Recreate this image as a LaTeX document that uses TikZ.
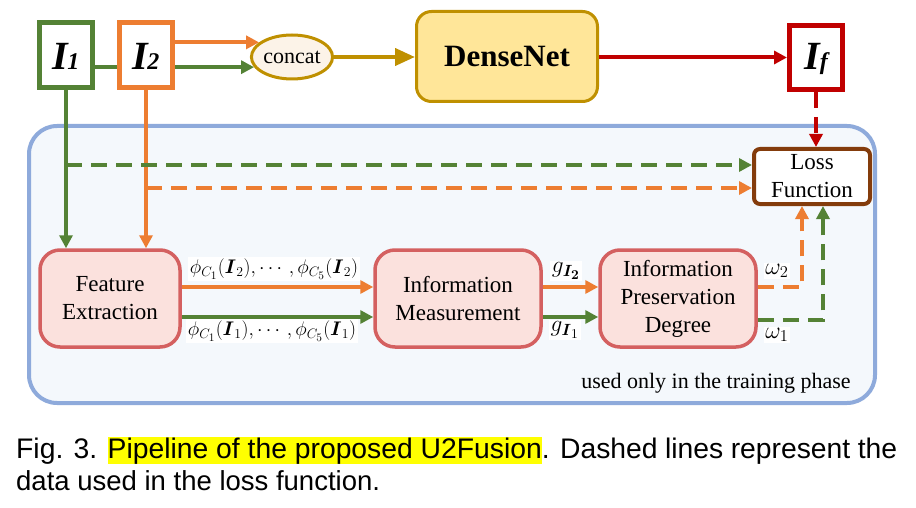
\documentclass[tikz,border=0pt]{standalone}
\usepackage{amsmath}
\usepackage{graphicx}
\usepackage{fontspec}
\setmainfont{Liberation Serif}
\newfontfamily\capfont{Liberation Sans}
\usetikzlibrary{arrows.meta,shapes.geometric,backgrounds,calc}
\definecolor{cgreen}{RGB}{84,130,53}
\definecolor{corange}{RGB}{237,125,49}
\definecolor{cgold}{RGB}{191,144,0}
\definecolor{cyellow}{RGB}{255,230,153}
\definecolor{ccream}{RGB}{252,243,232}
\definecolor{cred}{RGB}{192,0,0}
\definecolor{cpinkfill}{RGB}{251,225,221}
\definecolor{cpinkline}{RGB}{212,96,96}
\definecolor{cbluefill}{RGB}{244,248,252}
\definecolor{cblueline}{RGB}{142,170,219}
\definecolor{cbrown}{RGB}{132,60,12}
\definecolor{hlyellow}{RGB}{255,255,0}
\tikzset{
  imgbox/.style={draw, line width=5pt, fill=white, inner sep=0pt,
    minimum width=53pt, minimum height=65pt},
  procbox/.style={draw=cpinkline, fill=cpinkfill, line width=3.5pt,
    rounded corners=20pt, minimum height=97pt, align=center, inner sep=2pt,
    font=\fontsize{23}{28}\selectfont},
  arr/.style={line width=4pt, -{Triangle[length=13pt,width=13pt]}},
  darr/.style={line width=4pt, dash pattern=on 16pt off 9pt,
    -{Triangle[length=13pt,width=13pt]}},
  lbl/.style={fill=white, inner sep=1.5pt, font=\fontsize{17.28}{20}\selectfont},
  bigI/.style={font=\fontsize{40}{40}\selectfont\bfseries\itshape,
    text height=30pt, text depth=1pt},
}
\newcommand{\subsz}{\fontsize{24}{24}\selectfont}
\begin{document}
\begin{tikzpicture}[x=1pt,y=-1pt]
\useasboundingbox (0,0) rectangle (916,508);
% nodes
\node[imgbox, draw=cgreen, bigI] (I1) at (66,55.5) {I\kern-1pt{\subsz 1}};
\node[imgbox, draw=corange, bigI] (I2) at (146,55.5) {I\kern-1pt{\subsz 2}};
\node[ellipse, draw=cgold, fill=ccream, line width=3pt, minimum width=77pt,
  minimum height=44pt, inner sep=0pt, font=\fontsize{22}{24}\selectfont] (cc) at (292,57) {concat};
\node[draw=cgold, fill=cyellow, line width=3pt, rounded corners=15pt,
  minimum width=181pt, minimum height=90pt, font=\fontsize{31}{34}\selectfont\bfseries] (dn) at (507,56.5) {DenseNet};
\node[imgbox, draw=cred, bigI, minimum height=64pt, text depth=5pt] (If) at (816,57.5) {I{\subsz f}};
\node[draw=cbrown, fill=white, line width=4pt, rounded corners=6pt,
  minimum width=116pt, minimum height=55pt, align=center, inner sep=0pt,
  font=\fontsize{23}{28}\selectfont] (lf) at (812,176.5) {Loss\\Function};
\node[procbox, minimum width=140pt] (fe) at (110,298.5) {Feature\\Extraction};
\node[procbox, minimum width=166pt] (im) at (458,298.5) {Information\\Measurement};
\node[procbox, minimum width=156pt] (ipd) at (678,298.5) {Information\\Preservation\\Degree};
\node[font=\fontsize{22}{24}\selectfont] (used) at (716,383) {used only in the training phase};
% background
\begin{pgfonlayer}{background}
\draw[draw=cblueline, fill=cbluefill, line width=4pt, rounded corners=28pt]
  (29,126) rectangle (875,403);
\draw[arr, cgreen] (I1.east |- cc.195) -- (cc.195);
\end{pgfonlayer}
% top row connectors
\draw[arr, corange] (I2.east |- cc.156) -- (cc.156);
\draw[line width=4pt, cgold, -{Triangle[length=20pt,width=17pt]}] (cc.east) -- (cc.east -| dn.west);
\draw[arr, cred] (dn.east |- If.west) -- (If.west);
\draw[darr, cred] (If.south) -- (If.south |- lf.north);
% vertical inputs
\draw[arr, cgreen] (I1.south) -- (I1.south |- fe.north);
\draw[arr, corange] (I2.south) -- (I2.south |- fe.north);
\coordinate (gd) at (I1.south |- 0,165);
\coordinate (od) at (I2.south |- 0,188);
\draw[darr, cgreen] (gd) -- (gd -| lf.west);
\draw[darr, corange] (od) -- (od -| lf.west);
% FE -> IM
\draw[arr, corange] (fe.east |- 0,287) -- (im.west |- 0,287);
\draw[arr, cgreen] (fe.east |- 0,317) -- (im.west |- 0,317);
% IM -> IPD
\draw[arr, corange] (im.east |- 0,287) -- (ipd.west |- 0,287);
\draw[arr, cgreen] (im.east |- 0,317) -- (ipd.west |- 0,317);
% IPD -> Loss
\draw[darr, corange] (ipd.east |- 0,287) -- (802,287) -- (802,0 |- lf.south);
\draw[darr, cgreen] (ipd.east |- 0,320) -- (823,320) -- (823,0 |- lf.south);
% labels
\node[lbl] (l1) at (274,269) {\scalebox{1.14}{$\phi_{C_1}(\boldsymbol{I}_2),\cdots,\phi_{C_5}(\boldsymbol{I}_2)$}};
\node[lbl] (l2) at (272,331) {\scalebox{1.14}{$\phi_{C_1}(\boldsymbol{I}_1),\cdots,\phi_{C_5}(\boldsymbol{I}_1)$}};
\node[lbl] (g2) at (566,271) {\scalebox{1.35}{$g_{\boldsymbol{I_2}}$}};
\node[lbl] (g1) at (565,330) {\scalebox{1.35}{$g_{\boldsymbol{I}_1}$}};
\node[lbl] (w2) at (777,271) {\scalebox{1.38}{$\omega_2$}};
\node[lbl] (w1) at (777,335) {\scalebox{1.38}{$\omega_1$}};
% caption
\node[anchor=base west, inner sep=0pt, font=\capfont\fontsize{28.3}{32}\selectfont] (cap1) at (16,458)
  {\makebox[881pt][s]{Fig. 3. {\setlength\fboxsep{0pt}\colorbox{hlyellow}{\rule[-5pt]{0pt}{26pt}Pipeline of the proposed U2Fusion}}. Dashed lines represent the}};
\node[anchor=base west, inner sep=0pt, font=\capfont\fontsize{27.5}{32}\selectfont] (cap2) at (16,490)
  {data used in the loss function.};
\end{tikzpicture}
\end{document}
